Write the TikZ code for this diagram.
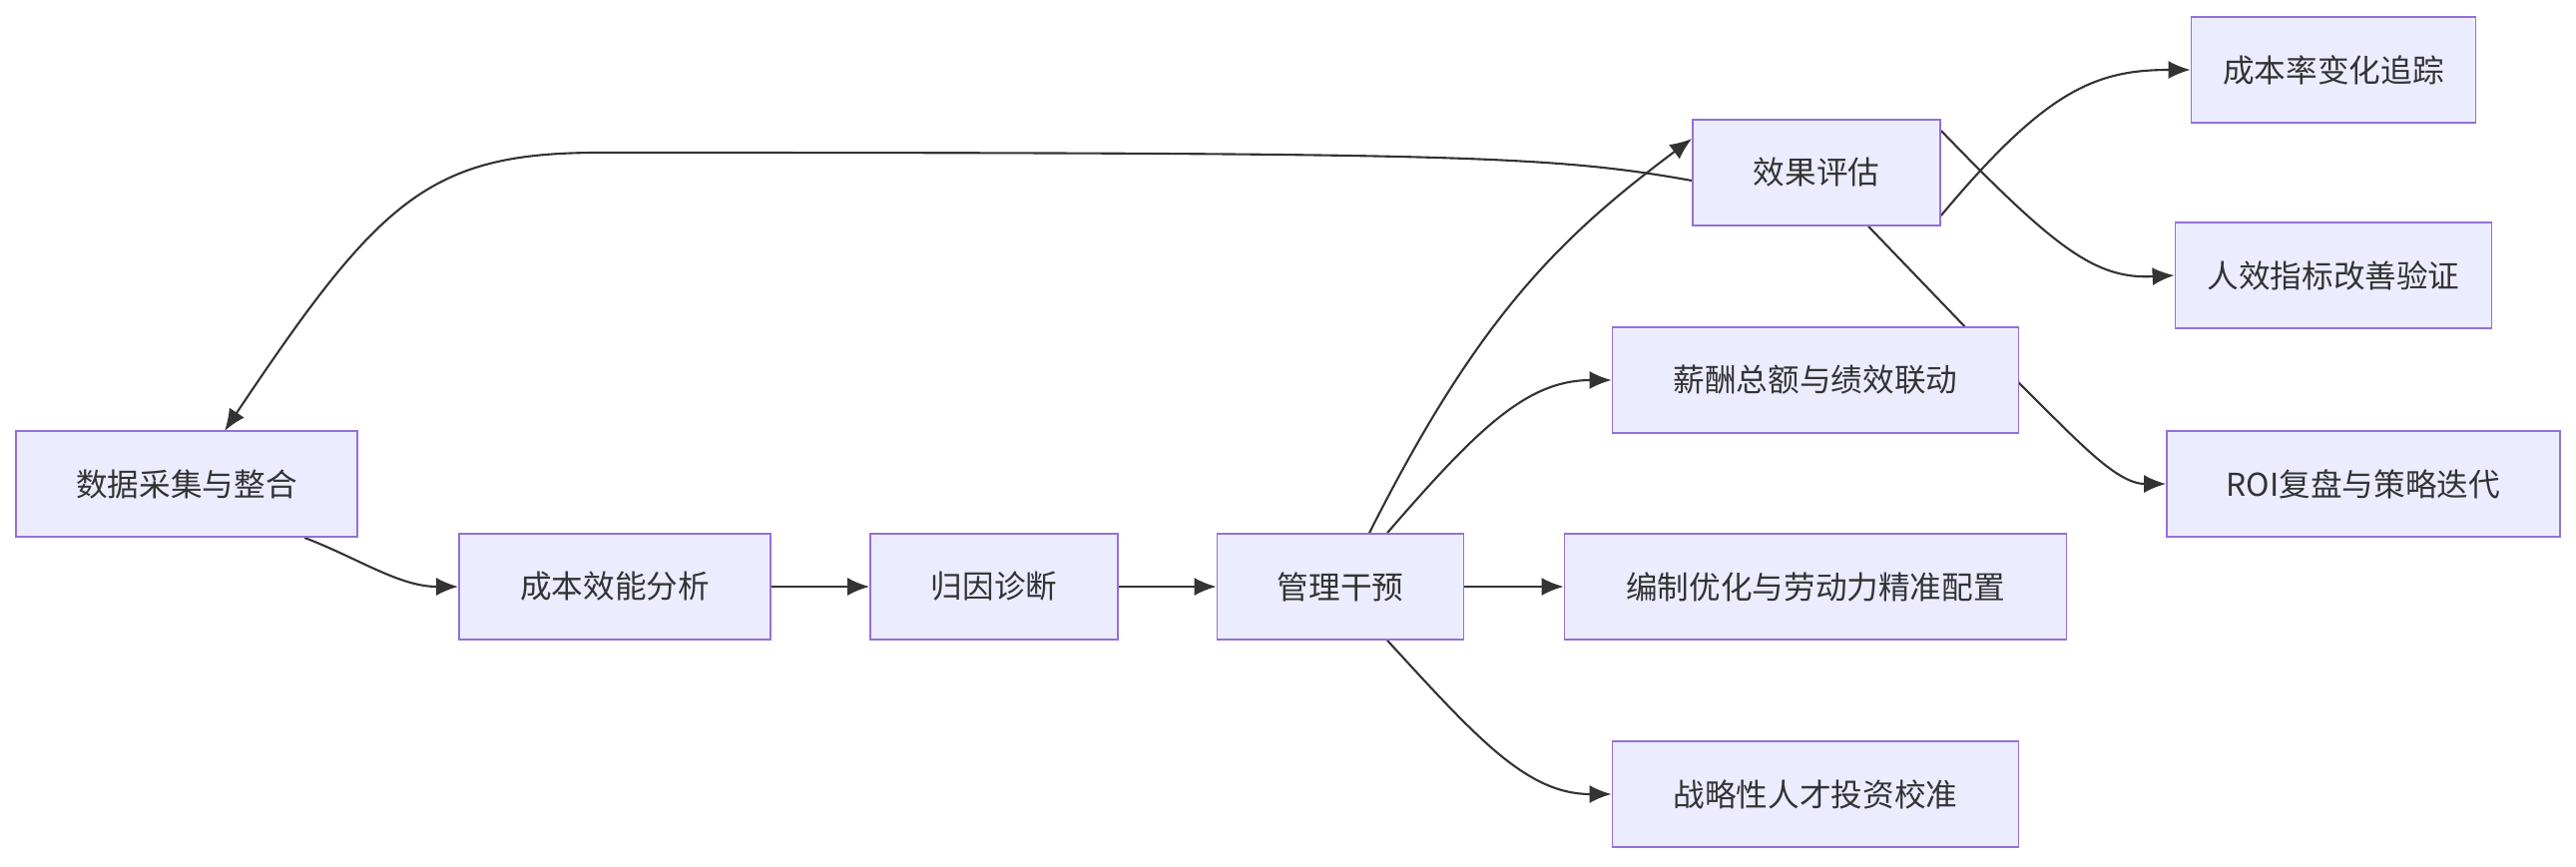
\documentclass[tikz,border=0pt]{standalone}
\usepackage{fontspec}
\setmainfont{Noto Sans CJK SC}
\usetikzlibrary{arrows.meta,backgrounds}
\definecolor{nfill}{HTML}{ECECFF}
\definecolor{nline}{HTML}{9370DB}
\definecolor{eline}{HTML}{333333}
\begin{document}
\begin{tikzpicture}[x=0.1mm,y=-0.1mm,
  box/.style={draw=nline,fill=nfill,line width=0.5pt,minimum height=10.6mm,inner sep=0pt,font=\fontsize{9}{11}\selectfont,text=eline},
  e/.style={draw=eline,line width=0.6pt,-{Latex[length=2.2mm,width=1.8mm]}}]
\useasboundingbox (0,0) rectangle (2581,868);
\node[box,minimum width=34.2mm] (d) at (187,485) {数据采集与整合};
\node[box,minimum width=31.2mm] (c) at (616,588) {成本效能分析};
\node[box,minimum width=24.8mm] (g) at (996,588) {归因诊断};
\node[box,minimum width=24.7mm] (m) at (1343,588) {管理干预};
\node[box,minimum width=50.3mm] (b) at (1819,588) {编制优化与劳动力精准配置};
\node[box,minimum width=40.7mm] (x) at (1819,381) {薪酬总额与绩效联动};
\node[box,minimum width=40.7mm] (z) at (1819,796) {战略性人才投资校准};
\node[box,minimum width=24.8mm] (f) at (1820,173) {效果评估};
\node[box,minimum width=28.5mm] (r1) at (2338,70) {成本率变化追踪};
\node[box,minimum width=31.7mm] (r2) at (2338,276) {人效指标改善验证};
\node[box,minimum width=39.4mm] (r3) at (2368,485) {ROI复盘与策略迭代};
\begin{scope}[on background layer]
\draw[e] ([xshift=11.8mm]d.south) .. controls (360,560) and (400,588) .. (c.west);
\draw[e] (c) -- (g);
\draw[e] (g) -- (m);
\draw[e] (m) -- (b);
\draw[e] ([xshift=4.7mm]m.north) .. controls (1480,430) and (1530,381) .. (x.west);
\draw[e] ([xshift=4.7mm]m.south) .. controls (1480,740) and (1530,796) .. (z.west);
\draw[e] ([xshift=2.9mm]m.north) .. controls (1480,320) and (1560,240) .. ([yshift=3.4mm]f.west);
\draw[e] ([yshift=-4.3mm]f.east) .. controls (2050,90) and (2100,70) .. (r1.west);
\draw[e] ([yshift=4.2mm]f.east) .. controls (2060,250) and (2100,280) .. (r2.west);
\draw[e] ([xshift=5.2mm]f.south) -- (2023,384) .. controls (2080,440) and (2120,485) .. (r3.west);
\draw[e] ([yshift=-0.8mm]f.west) .. controls (1550,155) and (1450,153) .. (600,153) .. controls (430,153) and (380,200) .. (225,432);
\end{scope}
\end{tikzpicture}
\end{document}
